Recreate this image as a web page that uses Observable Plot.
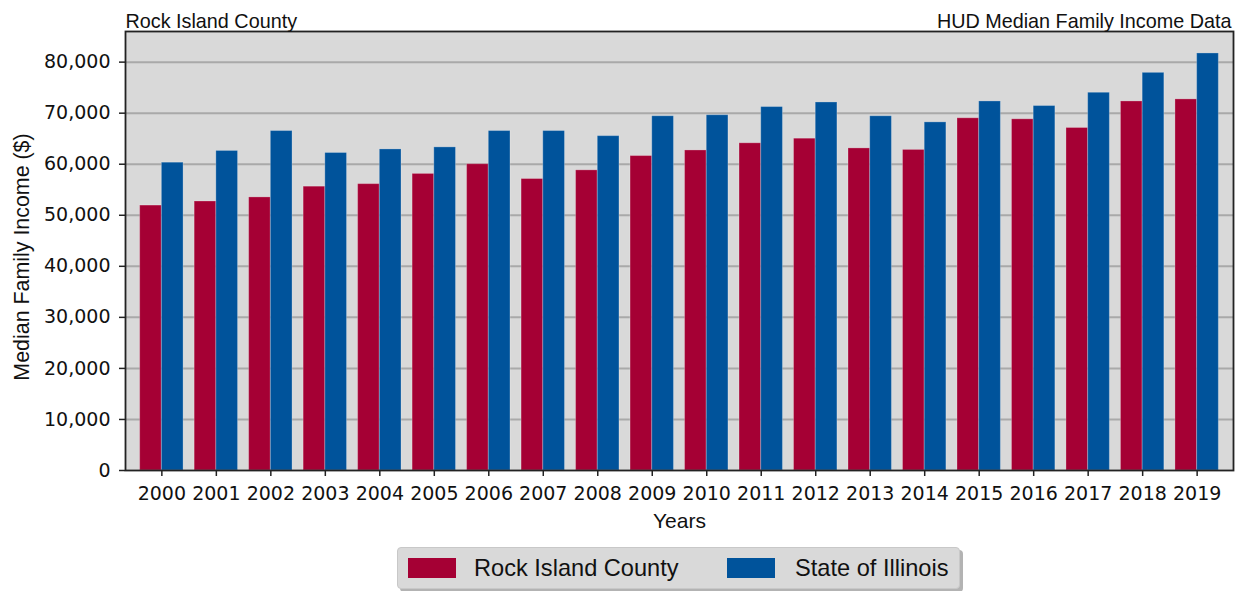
<!DOCTYPE html>
<html><head><meta charset="utf-8">
<script src="https://cdn.jsdelivr.net/npm/d3@7"></script>
<script src="https://cdn.jsdelivr.net/npm/@observablehq/plot@0.6"></script>
<style>
body{margin:0;background:#fff;}
#chart{position:relative;width:1241px;height:591px;overflow:hidden;}
#chart svg{display:block;}
.legend{position:absolute;left:397px;top:547px;width:561px;height:40px;background:#d9d9d9;border:1px solid #c8c8c8;border-radius:4px;box-shadow:3px 3px 0 #b3b3b3;font-family:"Liberation Sans",Arial,sans-serif;font-size:23.6px;color:#111;}
.sw{position:absolute;top:10px;width:48px;height:20px;}
.lt{position:absolute;top:6px;line-height:28px;white-space:nowrap;}
</style></head><body><div id="chart"></div>
<script>
const years = ["2000","2001","2002","2003","2004","2005","2006","2007","2008","2009","2010","2011","2012","2013","2014","2015","2016","2017","2018","2019"];
const rockIsland = [51900,52700,53500,55600,56100,58100,60000,57100,58800,61600,62700,64100,65000,63100,62800,69000,68800,67100,72300,72700];
const illinois = [60300,62600,66500,62200,62900,63300,66500,66500,65500,69400,69600,71200,72100,69400,68200,72300,71400,74000,77900,81700];
const yTicks = [0,10000,20000,30000,40000,50000,60000,70000,80000];
const seriesNames = ["Rock Island County","State of Illinois"];
const colors = ["#a50034","#00539b"];

const rows = years.map((y,i)=>({year:y, rock:rockIsland[i], ill:illinois[i]}));
const sans = "Liberation Sans, Arial, sans-serif";

const chart = Plot.plot({
  width:1241, height:540,
  marginTop:31, marginBottom:70, marginLeft:125, marginRight:8,
  style:{fontFamily:"DejaVu Sans", fontSize:"19px", background:"white", color:"#111", overflow:"visible"},
  x:{domain:years, type:"band", paddingInner:0.2035, paddingOuter:0.269, round:false, label:null},
  y:{domain:[0,86000], label:null},
  marks:[
    Plot.frame({fill:"#d9d9d9"}),
    Plot.gridY(yTicks.slice(1), {stroke:"#a9a9a9", strokeOpacity:1, strokeWidth:2}),
    Plot.barY(rows, {x:"year", y:"rock", fill:colors[0], insetRight:21.7, stroke:"#ffffff", strokeOpacity:0.25, strokeWidth:1}),
    Plot.barY(rows, {x:"year", y:"ill", fill:colors[1], insetLeft:21.7, stroke:"#ffffff", strokeOpacity:0.25, strokeWidth:1}),
    Plot.axisY(yTicks, {tickFormat:d3.format(","), tickSize:6, tickPadding:9, label:null, stroke:"#222", strokeWidth:1.5}),
    Plot.axisX({tickSize:6, tickPadding:10, label:null, stroke:"#222", strokeWidth:1.5}),
    Plot.frame({stroke:"#222", strokeWidth:1.8}),
    Plot.text(["Rock Island County"], {frameAnchor:"top-left", text:d=>d, textAnchor:"start", lineAnchor:"bottom", dy:-4, fontFamily:sans, fontSize:19.8}),
    Plot.text(["HUD Median Family Income Data"], {frameAnchor:"top-right", text:d=>d, textAnchor:"end", lineAnchor:"bottom", dy:-4, dx:-2, fontFamily:sans, fontSize:19.8}),
    Plot.text(["Median Family Income ($)"], {frameAnchor:"left", text:d=>d, rotate:-90, textAnchor:"middle", dx:-103, dy:6, fontFamily:sans, fontSize:21.4}),
    Plot.text(["Years"], {frameAnchor:"bottom", text:d=>d, lineAnchor:"middle", dy:51, fontFamily:sans, fontSize:21})
  ]
});
const host = document.getElementById("chart");
host.appendChild(chart);
const leg = document.createElement("div");
leg.className = "legend";
leg.innerHTML = `<div class="sw" style="left:10px;background:${colors[0]}"></div><div class="lt" style="left:76px">${seriesNames[0]}</div>
<div class="sw" style="left:329px;background:${colors[1]}"></div><div class="lt" style="left:397px">${seriesNames[1]}</div>`;
host.appendChild(leg);
</script></body></html>
